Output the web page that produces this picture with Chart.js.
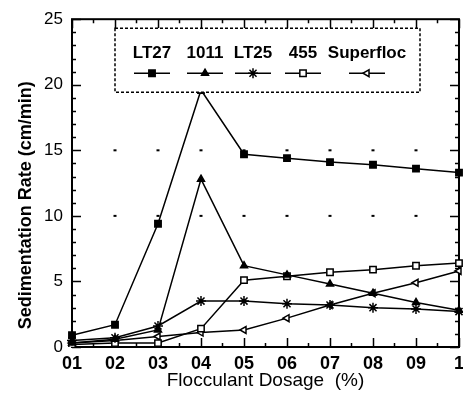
<!DOCTYPE html>
<html><head><meta charset="utf-8">
<script src="https://cdn.jsdelivr.net/npm/chart.js@4.4.1/dist/chart.umd.min.js"></script>
<style>
html,body{margin:0;padding:0;background:#fff;overflow:hidden;width:463px;height:400px}
#wrap{width:470px;height:400px;position:relative}
canvas{display:block}
</style>
</head><body><div id="wrap"><canvas id="c" width="470" height="400"></canvas></div>
<script>
const categories = ['01','02','03','04','05','06','07','08','09','1'];
const lt27      = [0.9, 1.7, 9.4, 19.6, 14.7, 14.4, 14.1, 13.9, 13.6, 13.3];
const s1011     = [0.3, 0.6, 1.3, 12.8, 6.2, 5.5, 4.8, 4.1, 3.4, 2.8];
const lt25      = [0.5, 0.7, 1.6, 3.5, 3.5, 3.3, 3.2, 3.0, 2.9, 2.7];
const s455      = [0.2, 0.3, 0.3, 1.4, 5.1, 5.4, 5.7, 5.9, 6.2, 6.4];
const superfloc = [0.3, 0.5, 0.8, 1.1, 1.3, 2.2, 3.2, 4.1, 4.9, 5.8];
const seriesNames = ['LT27', '1011', 'LT25', '455', 'Superfloc'];
const yTickValues = [0, 5, 10, 15, 20, 25];
const xTitle = 'Flocculant Dosage  (%)';
const yTitle = 'Sedimentation Rate (cm/min)';

const FONT = "'Liberation Sans', Arial, sans-serif";
const styles = [
  {pointStyle:'rect', radius:4.5, fill:'#000', rotation:0},
  {pointStyle:'triangle', radius:4, fill:'#000', rotation:0},
  {pointStyle:'star', radius:5, fill:'#000', rotation:0},
  {pointStyle:'rect', radius:4.5, fill:'#fff', rotation:0},
  {pointStyle:'triangle', radius:4, fill:'#fff', rotation:270}
];
const seriesData = [lt27, s1011, lt25, s455, superfloc];

const datasets = seriesData.map((d, i) => ({
  label: seriesNames[i],
  data: d,
  borderColor: '#000',
  backgroundColor: styles[i].fill,
  borderWidth: 1.5,
  tension: 0,
  pointStyle: styles[i].pointStyle,
  pointRadius: styles[i].radius,
  pointRotation: styles[i].rotation,
  pointBorderColor: '#000',
  pointBackgroundColor: styles[i].fill,
  pointBorderWidth: 1.5
}));

const framePlugin = {
  id: 'frame',
  beforeDatasetsDraw(chart) {
    const {ctx, chartArea: a, scales: {x, y}} = chart;
    ctx.save();
    ctx.strokeStyle = '#000';
    ctx.fillStyle = '#000';
    for (let i = 1; i < categories.length - 1; i++) {
      for (const v of [10, 15]) {
        const px = x.getPixelForValue(i), py = y.getPixelForValue(v);
        ctx.fillRect(px - 1.5, py - 1, 3, 2);
      }
    }
    ctx.lineWidth = 1.5;
    ctx.beginPath();
    for (let v = 0; v <= 25; v++) {
      const py = Math.round(y.getPixelForValue(v)) + 0.5;
      const len = (v % 5 === 0) ? 9 : 4;
      ctx.moveTo(a.left, py); ctx.lineTo(a.left + len, py);
      ctx.moveTo(a.right, py); ctx.lineTo(a.right - len, py);
    }
    for (let i = 0; i < categories.length; i++) {
      const px = Math.round(x.getPixelForValue(i)) + 0.5;
      ctx.moveTo(px, a.bottom); ctx.lineTo(px, a.bottom - 9);
      ctx.moveTo(px, a.top); ctx.lineTo(px, a.top + 9);
      if (i < categories.length - 1) {
        const pm = Math.round(x.getPixelForValue(i + 0.5)) + 0.5;
        ctx.moveTo(pm, a.bottom); ctx.lineTo(pm, a.bottom - 4);
        ctx.moveTo(pm, a.top); ctx.lineTo(pm, a.top + 4);
      }
    }
    ctx.stroke();
    ctx.lineWidth = 2;
    ctx.strokeRect(a.left, a.top, a.right - a.left, a.bottom - a.top);
    ctx.restore();
  },
  afterDraw(chart) {
    const {ctx, chartArea: a} = chart;
    ctx.save();
    ctx.translate(a.left - 46, a.top + 186);
    ctx.rotate(-Math.PI / 2);
    ctx.font = "bold 18px " + FONT;
    ctx.fillStyle = '#000';
    ctx.textAlign = 'center';
    ctx.textBaseline = 'middle';
    ctx.fillText(yTitle, 0, 0);
    ctx.restore();

    ctx.save();
    const bl = a.left + 43, bt = a.top + 9, br = a.left + 348, bb = a.top + 73;
    ctx.fillStyle = '#fff';
    ctx.fillRect(bl, bt, br - bl, bb - bt);
    ctx.strokeStyle = '#000';
    ctx.lineWidth = 1.5;
    ctx.setLineDash([3, 2]);
    ctx.strokeRect(bl, bt, br - bl, bb - bt);
    ctx.setLineDash([]);
    const centers = [37, 90, 138, 188, 252];
    ctx.font = "bold 17px " + FONT;
    ctx.textAlign = 'center';
    ctx.textBaseline = 'middle';
    seriesNames.forEach((name, i) => {
      const cx = bl + centers[i];
      ctx.fillStyle = '#000';
      ctx.fillText(name, cx, bt + 25);
      const ly = bt + 45;
      ctx.beginPath();
      ctx.lineWidth = 1.5;
      ctx.moveTo(cx - 18, ly); ctx.lineTo(cx + 18, ly);
      ctx.stroke();
      ctx.fillStyle = styles[i].fill;
      ctx.strokeStyle = '#000';
      Chart.helpers.drawPoint(ctx, {
        pointStyle: styles[i].pointStyle,
        radius: styles[i].radius,
        rotation: styles[i].rotation,
        borderWidth: 1.5
      }, cx, ly);
    });
    ctx.restore();
  }
};

new Chart(document.getElementById('c'), {
  type: 'line',
  data: {labels: categories, datasets},
  options: {
    responsive: false,
    animation: false,
    devicePixelRatio: 1,
    layout: {padding: {top: 14, right: 9, left: 0, bottom: 0}},
    plugins: {legend: {display: false}, tooltip: {enabled: false}},
    scales: {
      x: {
        type: 'category',
        offset: false,
        grid: {display: false, drawTicks: false, tickLength: 0},
        border: {display: false},
        ticks: {color: '#000', font: {family: FONT, size: 18, weight: 'bold'}, padding: 6, maxRotation: 0, autoSkip: false},
        title: {display: true, text: xTitle, color: '#000', font: {family: FONT, size: 19}, padding: {top: 4, bottom: 8}},
        afterFit(s) { s.height = 53; }
      },
      y: {
        min: 0, max: 25,
        grid: {display: false, drawTicks: false, tickLength: 0},
        border: {display: false},
        afterBuildTicks(s) { s.ticks = yTickValues.map(v => ({value: v})); },
        ticks: {color: '#000', font: {family: FONT, size: 17}, padding: 9},
        afterFit(s) { s.width = 72; }
      }
    }
  },
  plugins: [framePlugin]
});
</script>
</body></html>
